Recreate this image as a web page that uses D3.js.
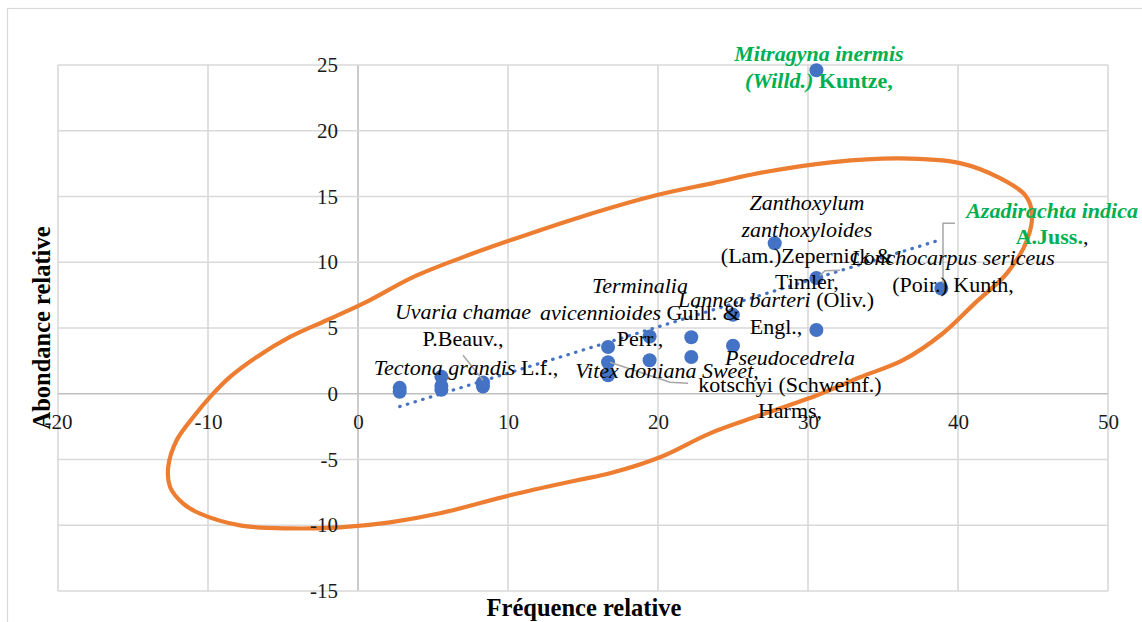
<!DOCTYPE html>
<html><head><meta charset="utf-8">
<script src="https://cdn.jsdelivr.net/npm/d3@7"></script>
<style>
html,body{margin:0;padding:0;background:#fff;}
svg{display:block;}
svg text{font-family:"Liberation Serif","Times New Roman",serif !important;}
</style></head><body>
<svg id="chart" width="1142" height="622"></svg>
<script>
// ---- data ----
const xTicks = [-20, -10, 0, 10, 20, 30, 40, 50];
const yTicks = [-15, -10, -5, 0, 5, 10, 15, 20, 25];
const xTitle = "Fréquence relative";
const yTitle = "Abondance relative";

const freq  = [2.78, 2.78, 5.56, 5.56, 5.56, 8.33, 8.33, 16.67, 16.67, 16.67, 19.44, 19.44, 22.22, 22.22, 25, 25, 27.78, 30.56, 30.56, 30.56, 38.89];
const abund = [0.45, 0.15, 1.3, 0.6, 0.3, 0.85, 0.55, 3.55, 2.4, 1.4, 4.35, 2.55, 4.3, 2.8, 6.0, 3.65, 11.45, 24.6, 8.8, 4.85, 8.0];

// species labels: lines of [text, style]  (i=italic, b=bold, g=green)
const labelLines = [
  [[["Mitragyna inermis", "big"]], [["(Willd.)", "big"], [" Kuntze,", "bg"]]],
  [[["Azadirachta indica", "big"]], [["A.Juss.", "bg"], [",", ""]]],
  [[["Zanthoxylum", "i"]], [["zanthoxyloides", "i"]], [["(Lam.)Zepernick &", ""]], [["Timler,", ""]]],
  [[["Lonchocarpus sericeus", "i"]], [["(Poir.) Kunth,", ""]]],
  [[["Terminalia", "i"]], [["avicennioides ", "i"], ["Guill. &", ""]], [["Perr.,", ""]]],
  [[["Uvaria chamae", "i"]], [["P.Beauv.,", ""]]],
  [[["Tectona grandis ", "i"], ["L.f.,", ""]]],
  [[["Vitex doniana Sweet,", "i"]]],
  [[["Lannea barteri ", "i"], ["(Oliv.)", ""]], [["Engl.,", ""]]],
  [[["Pseudocedrela", "i"]], [["kotschyi (Schweinf.)", ""]], [["Harms,", ""]]]
];
// label anchor (centre x, first baseline y) in data units
const labelX = [30.73, 46.27, 29.93, 39.67, 18.8, 7.0, 7.2, 20.6, 27.87, 28.8];
const labelY = [25.27, 13.36, 13.96, 9.78, 7.65, 5.67, 1.41, 1.18, 6.58, 2.17];

// leader lines in data units
const leaderLines = [
  [[7.0, 2.93], [8.33, 1.03]],
  [[16.8, 2.4], [20.8, 0.88], [22.0, 0.8]],
  [[30.8, 9.0], [31.13, 9.35], [32.13, 9.4]],
  [[39.8, 12.97], [39.0, 12.97], [39.0, 8.4]]
];

// hand-drawn orange ellipse outline in data units
const ringX = [-12.65, -12.09, -10.98, -9.75, -8.53, -6.75, -4.53, -2.09, 0.5, 3.67, 7.0, 10.0, 14.8, 19.93, 23.67, 27.13, 31.67, 36.13, 40.13, 42.8, 44.47, 44.93, 44.6, 43.27, 41.13, 39.0, 36.33, 33.47, 30.6, 26.8, 23.47, 20.13, 16.8, 14.6, 10.13, 5.47, 2.13, -1.2, -4.53, -7.87, -10.53, -11.65, -12.53];
const ringY = [-5.57, -3.54, -1.77, -0.11, 1.28, 2.8, 4.32, 5.59, 6.95, 8.87, 10.39, 11.61, 13.43, 15.11, 16.02, 16.86, 17.62, 17.9, 17.54, 16.4, 15.11, 13.74, 11.68, 9.17, 6.89, 4.6, 2.55, 1.26, -0.11, -1.64, -3.01, -4.83, -6.05, -6.58, -7.72, -9.09, -9.78, -10.16, -10.24, -10.01, -9.12, -8.36, -7.09];

// ---- chart ----
const svg = d3.select("#chart");
const W = 1142, H = 622;
const plot = {left: 58, right: 1108, top: 65, bottom: 591};
const x = d3.scaleLinear().domain([-20, 50]).range([plot.left, plot.right]);
const y = d3.scaleLinear().domain([-15, 25]).range([plot.bottom, plot.top]);

svg.append("rect").attr("width", W).attr("height", H).attr("fill", "#fff");
svg.append("rect").attr("x", 7.5).attr("y", 8.5).attr("width", 1200).attr("height", 700)
  .attr("fill", "none").attr("stroke", "#d9d9d9").attr("stroke-width", 1.2);

const grid = svg.append("g");
grid.selectAll("line.v").data(xTicks).join("line")
  .attr("x1", d => x(d)).attr("x2", d => x(d))
  .attr("y1", plot.top).attr("y2", plot.bottom)
  .attr("stroke", d => d === 0 ? "#bfbfbf" : "#d9d9d9").attr("stroke-width", 1.6);
grid.selectAll("line.h").data(yTicks).join("line")
  .attr("y1", d => y(d)).attr("y2", d => y(d))
  .attr("x1", plot.left).attr("x2", plot.right)
  .attr("stroke", d => d === 0 ? "#bfbfbf" : "#d9d9d9").attr("stroke-width", 1.6);

// orange ellipse
const ring = ringX.map((v, i) => [x(v), y(ringY[i])]);
svg.append("path")
  .attr("d", d3.line().curve(d3.curveCatmullRomClosed.alpha(0.5))(ring))
  .attr("fill", "none").attr("stroke", "#ED7D31").attr("stroke-width", 4.2)
  .attr("stroke-linejoin", "round");

// linear trendline (least squares)
const n = freq.length;
const mx = d3.mean(freq), my = d3.mean(abund);
let sxy = 0, sxx = 0;
for (let i = 0; i < n; i++) { sxy += (freq[i] - mx) * (abund[i] - my); sxx += (freq[i] - mx) ** 2; }
const slope = sxy / sxx, icpt = my - slope * mx;
const x0 = d3.min(freq), x1 = d3.max(freq);
svg.append("line")
  .attr("x1", x(x0)).attr("y1", y(icpt + slope * x0))
  .attr("x2", x(x1)).attr("y2", y(icpt + slope * x1))
  .attr("stroke", "#4472C4").attr("stroke-width", 3.2)
  .attr("stroke-dasharray", "0.5 7.5").attr("stroke-linecap", "round");

// points
svg.append("g").selectAll("circle").data(freq).join("circle")
  .attr("cx", d => x(d)).attr("cy", (d, i) => y(abund[i]))
  .attr("r", 7).attr("fill", "#4472C4");

// leader lines
svg.append("g").selectAll("path").data(leaderLines).join("path")
  .attr("d", d => d3.line()(d.map(p => [x(p[0]), y(p[1])])))
  .attr("fill", "none").attr("stroke", "#a6a6a6").attr("stroke-width", 1.5);

// axes tick labels
const fmt = d => String(d);
const yAxis = d3.axisLeft(y).tickValues(yTicks).tickFormat(fmt).tickSize(0).tickPadding(20);
const gy = svg.append("g").attr("transform", `translate(${x(0)},0)`).call(yAxis);
const xAxis = d3.axisBottom(x).tickValues(xTicks).tickFormat(fmt).tickSize(0).tickPadding(20);
const gx = svg.append("g").attr("transform", `translate(0,${y(0)})`).call(xAxis);
[gx, gy].forEach(g => {
  g.attr("font-family", null).attr("font-size", null);
  g.select(".domain").remove();
  g.selectAll("text").style("font-family", "'Liberation Serif', serif").attr("font-size", 21).attr("fill", "#1a1a1a");
});

// species labels
const lg = svg.append("g");
labelLines.forEach((lines, k) => {
  const cx = x(labelX[k]), by = y(labelY[k]);
  lines.forEach((segs, li) => {
    const t = lg.append("text").attr("x", cx).attr("y", by + li * 26.4)
      .attr("text-anchor", "middle").attr("font-size", 22);
    segs.forEach(([txt, st]) => {
      t.append("tspan").text(txt)
        .attr("font-style", st.includes("i") ? "italic" : "normal")
        .attr("font-weight", st.includes("b") ? "bold" : "normal")
        .attr("fill", st.includes("g") ? "#00B050" : "#000");
    });
  });
});

// axis titles
svg.append("text").attr("x", 584).attr("y", 616).attr("text-anchor", "middle")
  .attr("font-size", 24.5).attr("font-weight", "bold").text(xTitle);
svg.append("text").attr("transform", "translate(49.5,328) rotate(-90)")
  .attr("text-anchor", "middle").attr("font-size", 24.5).attr("font-weight", "bold").text(yTitle);
</script>
</body></html>
